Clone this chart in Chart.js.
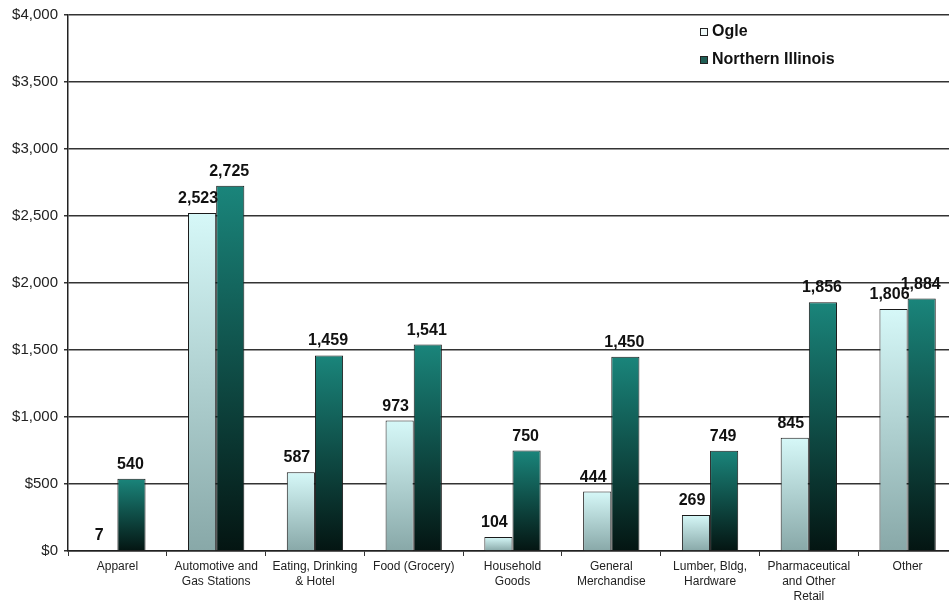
<!DOCTYPE html>
<html>
<head>
<meta charset="utf-8">
<script src="https://cdn.jsdelivr.net/npm/chart.js@4/dist/chart.umd.min.js"></script>
<style>
  html, body { margin: 0; padding: 0; background: #fff; overflow: hidden; }
  #wrap { width: 960px; height: 605px; position: relative; }
</style>
</head>
<body>
<div id="wrap"><canvas id="salesChart"></canvas></div>
<script>
const categories = [
  'Apparel',
  ['Automotive and', 'Gas Stations'],
  ['Eating, Drinking', '& Hotel'],
  'Food (Grocery)',
  ['Household', 'Goods'],
  ['General', 'Merchandise'],
  ['Lumber, Bldg,', 'Hardware'],
  ['Pharmaceutical', 'and Other', 'Retail'],
  'Other'
];
const ogleValues = [7, 2523, 587, 973, 104, 444, 269, 845, 1806];
const northernValues = [540, 2725, 1459, 1541, 750, 1450, 749, 1856, 1884];
const seriesNames = ['Ogle', 'Northern Illinois'];

function barGradient(top, bottom) {
  return function(context) {
    const chart = context.chart;
    if (!chart.chartArea || context.parsed === undefined) return top;
    const y = chart.scales.y;
    const yTop = y.getPixelForValue(context.parsed.y);
    const yBase = y.getPixelForValue(0);
    if (!isFinite(yTop) || yBase - yTop < 1) return top;
    const g = chart.ctx.createLinearGradient(0, yTop, 0, yBase);
    g.addColorStop(0, top);
    g.addColorStop(1, bottom);
    return g;
  };
}

// value labels above bars
const valueLabels = {
  id: 'valueLabels',
  afterDatasetsDraw(chart) {
    const c = chart.ctx;
    c.save();
    c.font = 'bold 16px "Liberation Sans", Arial, sans-serif';
    c.fillStyle = '#111';
    c.textAlign = 'center';
    c.textBaseline = 'alphabetic';
    chart.data.datasets.forEach(function(ds, i) {
      chart.getDatasetMeta(i).data.forEach(function(bar, j) {
        const shift = i === 0 ? -4 : -1;
        c.fillText(ds.data[j].toLocaleString('en-US'), bar.x + shift, bar.y - 10);
      });
    });
    c.restore();
  }
};

// legend drawn inside the plot, top right
const boxLegend = {
  id: 'boxLegend',
  afterDraw(chart) {
    const c = chart.ctx;
    const colors = ['#eef8f8', '#1f5e55'];
    c.save();
    c.font = 'bold 16px "Liberation Sans", Arial, sans-serif';
    c.textBaseline = 'middle';
    seriesNames.forEach(function(name, i) {
      const y = 32 + i * 28;
      c.fillStyle = colors[i];
      c.fillRect(700, y - 4, 8, 8);
      c.strokeStyle = '#222';
      c.lineWidth = 1;
      c.strokeRect(700.5, y - 3.5, 7, 7);
      c.fillStyle = '#111';
      c.fillText(name, 712, y);
    });
    c.restore();
  }
};

new Chart(document.getElementById('salesChart'), {
  type: 'bar',
  data: {
    labels: categories,
    datasets: [
      {
        label: seriesNames[0],
        data: ogleValues,
        backgroundColor: barGradient('#d6f8f8', '#88a8a8'),
        borderColor: '#1a1a1a',
        borderWidth: 1
      },
      {
        label: seriesNames[1],
        data: northernValues,
        backgroundColor: barGradient('#1a857b', '#041512'),
        borderColor: '#1a1a1a',
        borderWidth: 1
      }
    ]
  },
  options: {
    responsive: true,
    maintainAspectRatio: false,
    animation: false,
    layout: { padding: { top: 14, right: 3, left: 0, bottom: 0 } },
    plugins: {
      legend: { display: false },
      tooltip: { enabled: false }
    },
    datasets: {
      bar: { categoryPercentage: 0.57, barPercentage: 1.0 }
    },
    scales: {
      x: {
        grid: {
          display: true,
          drawOnChartArea: false,
          drawTicks: true,
          tickLength: 5,
          color: '#333',
          offset: true
        },
        border: { display: true, color: '#222', width: 1.5 },
        ticks: {
          color: '#222',
          font: { family: '"Liberation Sans", Arial, sans-serif', size: 12, lineHeight: 1.25 },
          maxRotation: 0,
          autoSkip: false,
          padding: 3
        },
        afterFit: function(scale) { scale.height = 54; }
      },
      y: {
        min: 0,
        max: 4000,
        ticks: {
          stepSize: 500,
          color: '#222',
          font: { family: '"Liberation Sans", Arial, sans-serif', size: 15 },
          padding: 6,
          callback: function(v) { return '$' + v.toLocaleString('en-US'); }
        },
        grid: { color: '#333', lineWidth: 1.5, tickLength: 4 },
        border: { display: true, color: '#222', width: 1.5 },
        afterFit: function(scale) { scale.width = 68; }
      }
    }
  },
  plugins: [valueLabels, boxLegend]
});
</script>
</body>
</html>
